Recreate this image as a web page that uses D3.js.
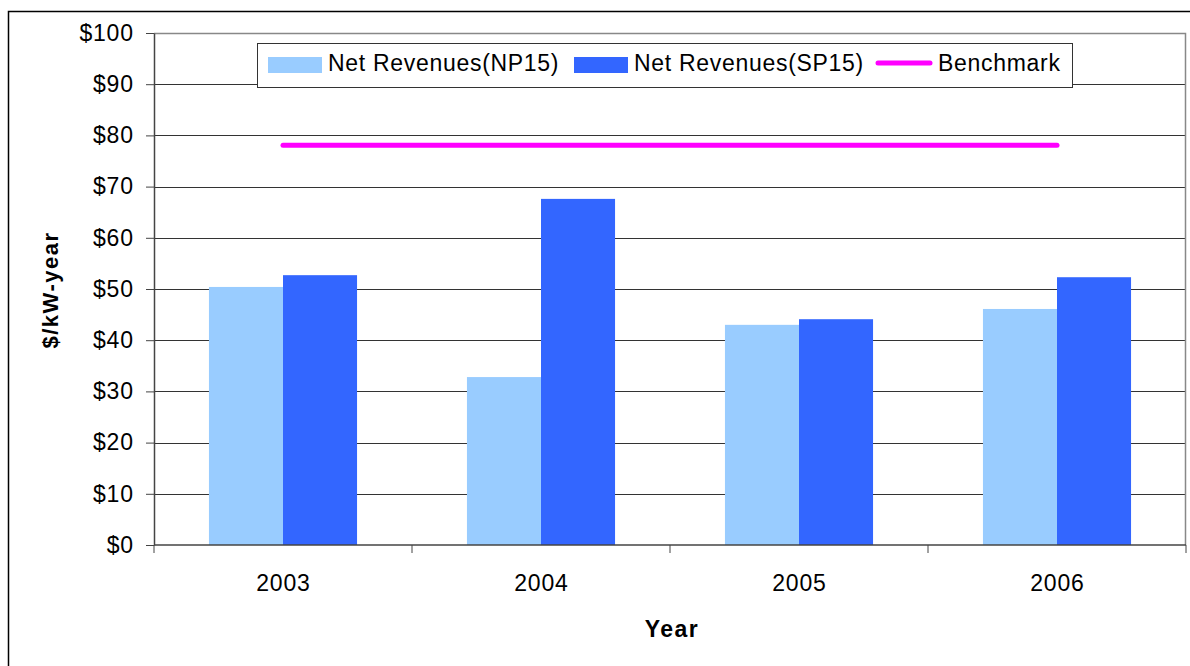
<!DOCTYPE html>
<html>
<head>
<meta charset="utf-8">
<script src="https://cdn.jsdelivr.net/npm/d3@7"></script>
<style>
  body { margin: 0; background: #fff; }
  text { font-family: "Liberation Sans", Arial, sans-serif; fill: #000; }
</style>
</head>
<body>
<div id="chart"></div>
<script>
// data
const years = ["2003", "2004", "2005", "2006"];
const np15 = [50.4, 32.8, 43.0, 46.1];
const sp15 = [52.7, 67.6, 44.1, 52.3];
const benchmark = [78.1, 78.1, 78.1, 78.1];
const yTicks = [0, 10, 20, 30, 40, 50, 60, 70, 80, 90, 100];
const seriesNames = ["Net Revenues(NP15)", "Net Revenues(SP15)", "Benchmark"];
const colours = ["#99CCFF", "#3366FF", "#FF00FF"];

const W = 1190, H = 666;
const margin = { top: 33, right: 4, bottom: 121, left: 154 };
const width = W - margin.left - margin.right;
const height = H - margin.top - margin.bottom;

const svg = d3.select("#chart").append("svg")
    .attr("width", W)
    .attr("height", H);

// outer chart frame
svg.append("rect")
    .attr("x", 8.5).attr("y", 11.5)
    .attr("width", W).attr("height", H)
    .attr("fill", "none").attr("stroke", "#000").attr("stroke-width", 1.5);

const g = svg.append("g")
    .attr("transform", "translate(" + margin.left + "," + margin.top + ")");

const x = d3.scaleBand()
    .domain(years)
    .range([0, width])
    .paddingInner(0.426)
    .paddingOuter(0.213);

const x1 = d3.scaleBand()
    .domain([0, 1])
    .range([0, x.bandwidth()]);

const y = d3.scaleLinear()
    .domain([0, 100])
    .range([height, 0]);

// gridlines
g.append("g")
  .selectAll("line")
  .data(yTicks.slice(1, -1))
  .join("line")
    .attr("x1", 0).attr("x2", width)
    .attr("y1", d => Math.round(y(d)) + 0.5)
    .attr("y2", d => Math.round(y(d)) + 0.5)
    .attr("stroke", "#333").attr("stroke-width", 1);

// plot border (top + right)
g.append("path")
    .attr("d", "M0,0.5H" + (width - 0.5) + "V" + height)
    .attr("fill", "none").attr("stroke", "#888").attr("stroke-width", 1.5);

// bars
const groups = g.append("g")
  .selectAll("g")
  .data(years)
  .join("g")
    .attr("transform", d => "translate(" + x(d) + ",0)");

groups.selectAll("rect")
  .data((d, i) => [np15[i], sp15[i]])
  .join("rect")
    .attr("x", (d, j) => x1(j))
    .attr("width", x1.bandwidth())
    .attr("y", d => y(d))
    .attr("height", d => height - y(d))
    .attr("fill", (d, j) => colours[j]);

// benchmark line
const line = d3.line()
    .x((d, i) => x(years[i]) + x.bandwidth() / 2)
    .y(d => y(d));

g.append("path")
    .datum(benchmark)
    .attr("d", line)
    .attr("fill", "none")
    .attr("stroke", colours[2])
    .attr("stroke-width", 5)
    .attr("stroke-linecap", "round");

// y axis
const yAxis = g.append("g")
    .call(d3.axisLeft(y).tickValues(yTicks).tickFormat(d => "$" + d).tickSize(8).tickSizeOuter(0));
yAxis.select(".domain").attr("stroke", "#444").attr("stroke-width", 1.5);
yAxis.selectAll(".tick line").attr("stroke", "#444");
yAxis.selectAll(".tick text")
    .attr("x", -20.2)
    .attr("font-size", 23)
    .attr("letter-spacing", 0.8)
    .attr("font-family", "Liberation Sans, Arial, sans-serif")
    .attr("fill", "#000");

// x axis: ticks on category boundaries
const xAxis = g.append("g")
    .attr("transform", "translate(0," + height + ")");
xAxis.append("line")
    .attr("x1", 0).attr("x2", width)
    .attr("y1", 0).attr("y2", 0)
    .attr("stroke", "#444").attr("stroke-width", 1.5);
xAxis.selectAll(".bound")
  .data(d3.range(years.length + 1))
  .join("line")
    .attr("class", "bound")
    .attr("x1", i => i * x.step()).attr("x2", i => i * x.step())
    .attr("y1", 0).attr("y2", 8)
    .attr("stroke", "#444");
xAxis.selectAll(".lbl")
  .data(years)
  .join("text")
    .attr("class", "lbl")
    .attr("x", d => x(d) + x.bandwidth() / 2 + 0.4)
    .attr("y", 46)
    .attr("text-anchor", "middle")
    .attr("font-size", 23)
    .attr("letter-spacing", 0.8)
    .text(d => d);

// axis titles
svg.append("text")
    .attr("x", 672)
    .attr("y", 637)
    .attr("text-anchor", "middle")
    .attr("font-size", 23)
    .attr("font-weight", "bold")
    .attr("letter-spacing", 1.5)
    .text("Year");

svg.append("text")
    .attr("transform", "translate(58," + (margin.top + height / 2 + 1) + ") rotate(-90)")
    .attr("text-anchor", "middle")
    .attr("font-size", 22)
    .attr("font-weight", "bold")
    .attr("letter-spacing", 1.5)
    .text("$/kW-year");

// legend
const legend = svg.append("g").attr("transform", "translate(257,43)");
legend.append("rect")
    .attr("x", 0.5).attr("y", 0.5)
    .attr("width", 815).attr("height", 44)
    .attr("fill", "#fff").attr("stroke", "#333").attr("stroke-width", 1);

const legendX = [11, 317, 619];
const items = legend.selectAll(".item")
  .data(seriesNames)
  .join("g")
    .attr("class", "item")
    .attr("transform", (d, i) => "translate(" + legendX[i] + ",0)");

items.filter((d, i) => i < 2).append("rect")
    .attr("x", 0).attr("y", 14)
    .attr("width", 54).attr("height", 16)
    .attr("fill", (d, i) => colours[i]);
items.filter((d, i) => i === 2).append("line")
    .attr("x1", 2).attr("x2", 54)
    .attr("y1", 20).attr("y2", 20)
    .attr("stroke", colours[2]).attr("stroke-width", 5)
    .attr("stroke-linecap", "round");
items.append("text")
    .attr("x", (d, i) => i < 2 ? 60 : 62)
    .attr("y", 28)
    .attr("font-size", 23)
    .attr("letter-spacing", 0.7)
    .text(d => d);
</script>
</body>
</html>
